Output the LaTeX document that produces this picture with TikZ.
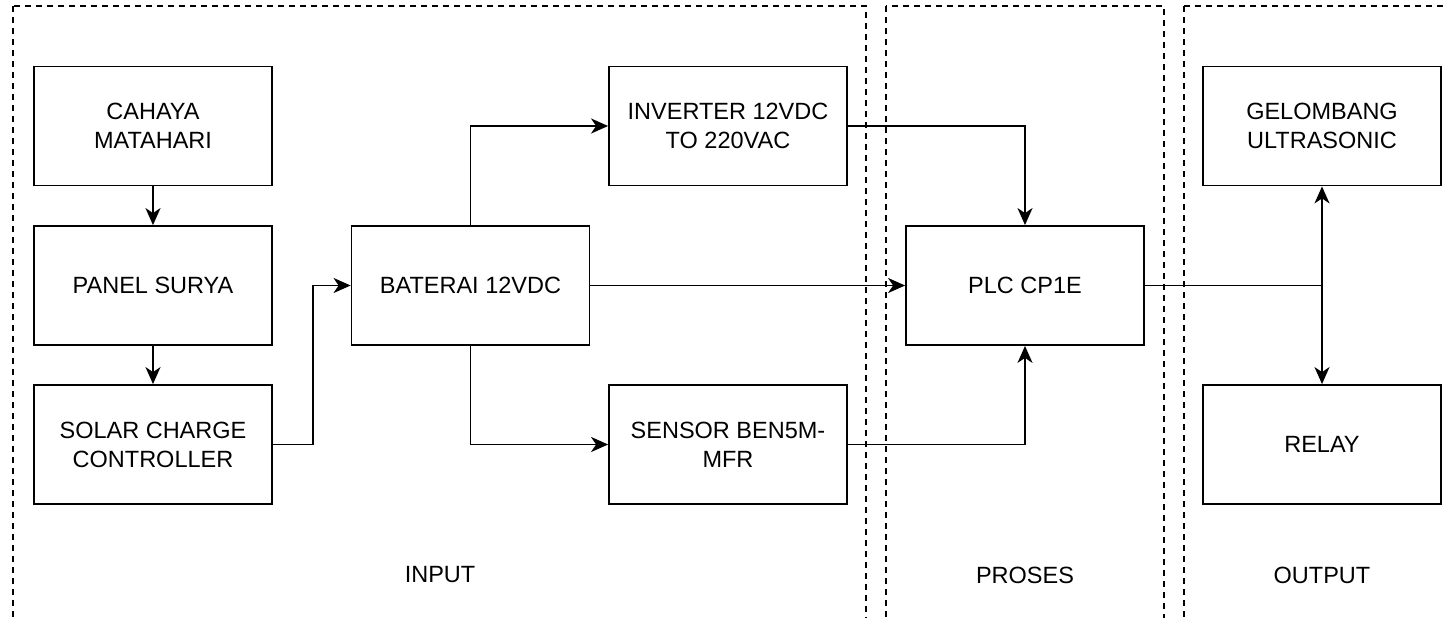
\documentclass[tikz,border=0pt]{standalone}
\usepackage{fontspec}
\setmainfont{Liberation Sans}
\usetikzlibrary{arrows.meta}

\begin{document}
\begin{tikzpicture}[x=1pt,y=-1pt,
    blok/.style={draw, line width=1.8pt, minimum width=238pt, minimum height=119pt,
                 align=center, font=\fontsize{23.5}{29}\selectfont},
    zona/.style={line width=1.5pt, dash pattern=on 6pt off 5pt},
    lbl/.style={font=\fontsize{23.5}{28}\selectfont},
    arr/.style={line width=1.8pt, -{Stealth[length=17pt,width=15pt,inset=5pt]}},
    garis/.style={line width=1.8pt}]
                \useasboundingbox (0,0) rectangle (1443,618);

                % area input, proses, output
                \draw[zona] (13,6) rectangle (866,619.5);
                \draw[zona] (886,6) rectangle (1164,619.5);
                \draw[zona] (1184,6) rectangle (1470,619.5);

                \node[lbl] (input) at (440,575) {INPUT};
                \node[lbl] (proses) at (1025,575) {PROSES};
                \node[lbl] (output) at (1322,575) {OUTPUT};

                % blok input
                \node[blok] (cahaya) at (153,126) {CAHAYA\\MATAHARI};
                \node[blok] (panel) at (153,285.5) {PANEL SURYA};
                \node[blok] (scc) at (153,444.5) {SOLAR CHARGE\\CONTROLLER};
                \node[blok] (baterai) at (470.5,285.5) {BATERAI 12VDC};
                \node[blok] (inverter) at (728,126) {INVERTER 12VDC\\TO 220VAC};
                \node[blok] (sensor) at (728,444.5) {SENSOR BEN5M-\\MFR};

                % blok proses dan output
                \node[blok] (plc) at (1025,285.5) {PLC CP1E};
                \node[blok] (gelombang) at (1322,126) {GELOMBANG\\ULTRASONIC};
                \node[blok] (relay) at (1322,444.5) {RELAY};

                \coordinate (cabang) at (gelombang.south |- plc.east);

                \draw[arr] (cahaya) -- (panel);
                \draw[arr] (panel) -- (scc);
                \draw[arr] (scc.east) -- ++(40,0) |- (baterai.west);
                \draw[arr] (baterai.north) |- (inverter.west);
                \draw[arr] (baterai.south) |- (sensor.west);
                \draw[arr] (baterai) -- (plc);
                \draw[arr] (inverter.east) -| (plc.north);
                \draw[arr] (sensor.east) -| (plc.south);
                \draw[garis] (plc.east) -- (cabang);
                \draw[arr] (cabang) -- (gelombang.south);
                \draw[arr] (cabang) -- (relay.north);

                \end{tikzpicture}
\end{document}
